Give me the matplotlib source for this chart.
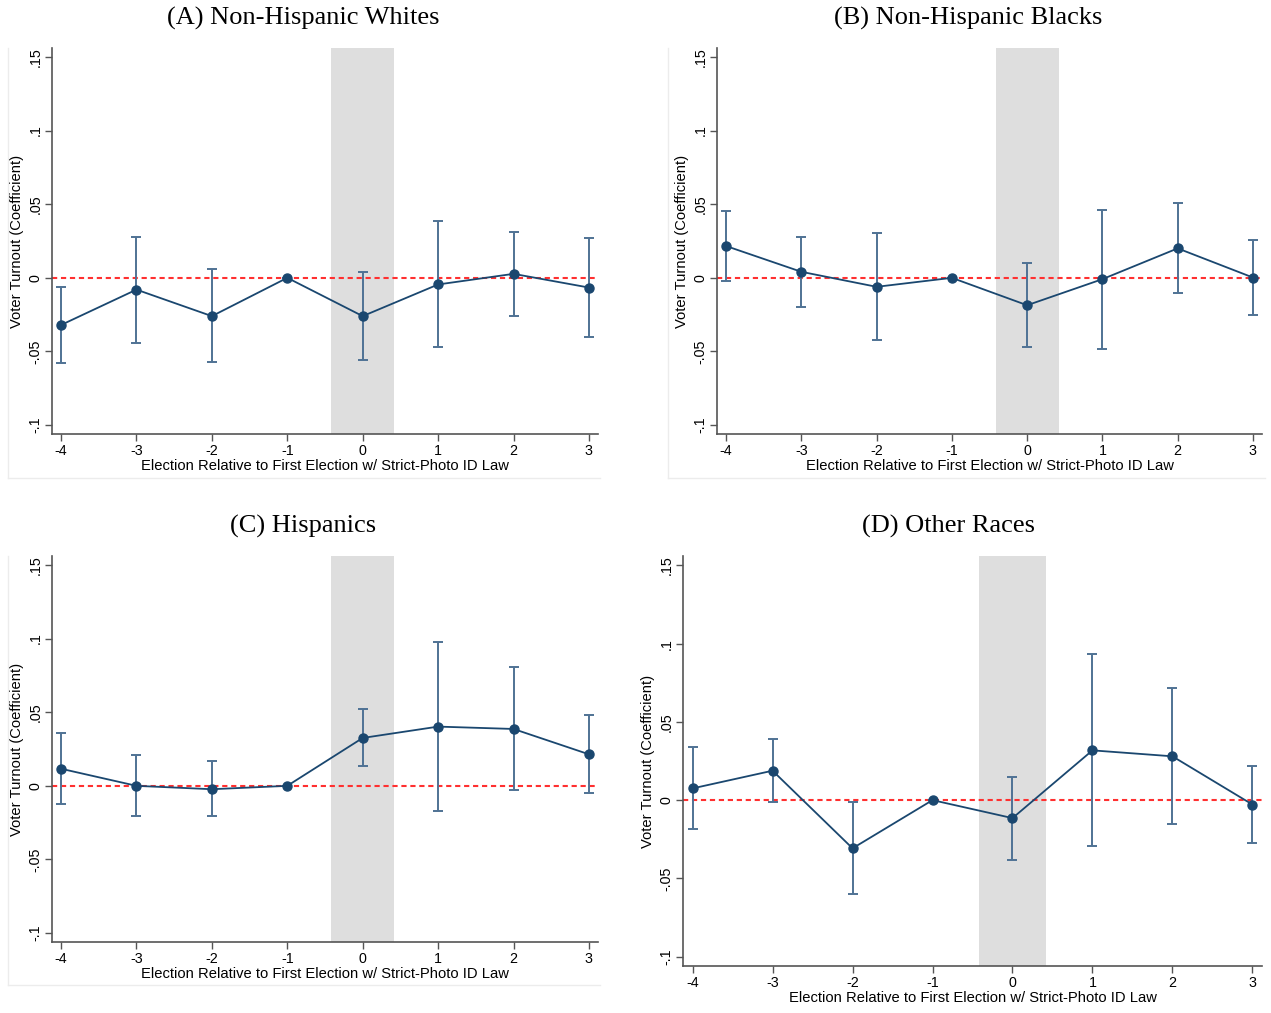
import numpy as np
import matplotlib
matplotlib.use("Agg")
import matplotlib.pyplot as plt
from matplotlib.lines import Line2D

plt.rcParams['font.family'] = ['Liberation Sans', 'DejaVu Sans']

periods = [-4, -3, -2, -1, 0, 1, 2, 3]
tick_labels_y = ['-.1', '-.05', '0', '.05', '.1', '.15']
tick_vals_y = [-0.1, -0.05, 0, 0.05, 0.1, 0.15]

titles = ['(A) Non-Hispanic Whites', '(B) Non-Hispanic Blacks',
          '(C) Hispanics', '(D) Other Races']

whites_coef = [-0.032, -0.008, -0.026, 0.0, -0.026, -0.0045, 0.0027, -0.0066]
whites_lo = [-0.058, -0.044, -0.057, 0.0, -0.056, -0.047, -0.0257, -0.040]
whites_hi = [-0.0064, 0.028, 0.0057, 0.0, 0.0041, 0.0386, 0.031, 0.0273]

blacks_coef = [0.0216, 0.0041, -0.0061, 0.0, -0.0186, -0.0009, 0.020, 0.0002]
blacks_lo = [-0.002, -0.0195, -0.0425, 0.0, -0.047, -0.048, -0.010, -0.0255]
blacks_hi = [0.0457, 0.0277, 0.0305, 0.0, 0.0102, 0.0461, 0.0505, 0.026]

hisp_coef = [0.0116, 0.0, -0.0023, 0.0, 0.0325, 0.0402, 0.0386, 0.0214]
hisp_lo = [-0.0123, -0.0205, -0.0205, 0.0, 0.0132, -0.0168, -0.0027, -0.0052]
hisp_hi = [0.0359, 0.0207, 0.0166, 0.0, 0.052, 0.0977, 0.0805, 0.0482]

other_coef = [0.0075, 0.0188, -0.0308, 0.0, -0.0115, 0.0318, 0.028, -0.0028]
other_lo = [-0.0186, -0.0011, -0.0598, 0.0, -0.038, -0.0293, -0.0152, -0.0271]
other_hi = [0.0338, 0.0389, -0.0015, 0.0, 0.0147, 0.0934, 0.0714, 0.0218]

series = [(whites_coef, whites_lo, whites_hi),
          (blacks_coef, blacks_lo, blacks_hi),
          (hisp_coef, hisp_lo, hisp_hi),
          (other_coef, other_lo, other_hi)]

W, H = 1271, 1013
fig = plt.figure(figsize=(W / 100, H / 100), dpi=100)

# axes boxes in pixels: left, top, right, bottom
boxes = [(52, 48, 598, 434), (717, 48, 1262, 434),
         (52, 556, 598, 942), (683, 556, 1262, 966)]
title_pos = [(303, 18), (968, 18), (303, 526), (949, 526)]

navy = '#1a476f'
bar_col = '#4f7294'

for i in range(4):
    l, t, r, b = boxes[i]
    ax = fig.add_axes([l / W, 1 - b / H, (r - l) / W, (b - t) / H])
    coef, lo, hi = series[i]
    x = np.array(periods)
    coef = np.array(coef)
    lo = np.array(lo)
    hi = np.array(hi)

    ax.axvspan(-0.42, 0.42, color='#dedede', lw=0, zorder=0)
    ax.axhline(0, color='#ff3030', ls=(0, (2.5, 1.8)), lw=1.5, zorder=1)
    ax.errorbar(x, coef, yerr=[coef - lo, hi - coef], fmt='none',
                ecolor=bar_col, elinewidth=1.4, capsize=3.5, capthick=1.4,
                zorder=2)
    ax.plot(x, coef, color=navy, lw=1.3, marker='o', ms=6.5, zorder=3)

    ax.set_xlim(-4.12, 3.12)
    ax.set_ylim(-0.106, 0.156)
    ax.set_xticks(periods)
    ax.set_xticklabels([str(p) for p in periods], fontsize=10.3)
    ax.set_yticks(tick_vals_y)
    ax.set_yticklabels(tick_labels_y, fontsize=10.3, rotation=90, va='center')
    for s in ['top', 'right']:
        ax.spines[s].set_visible(False)
    for s in ['left', 'bottom']:
        ax.spines[s].set_color('#555555')
        ax.spines[s].set_linewidth(1.2)
    ax.tick_params(direction='out', length=5, width=1, color='#555555', pad=2)
    ax.set_xlabel('Election Relative to First Election w/ Strict-Photo ID Law',
                  fontsize=10.6, labelpad=1)
    ax.set_ylabel('Voter Turnout (Coefficient)', fontsize=10.6, labelpad=3)

    tx, ty = title_pos[i]
    fig.text(tx / W, 1 - ty / H, titles[i], ha='center', va='center',
             fontsize=19, family='Liberation Serif')

# faint outer frames of graph regions
frames = [(8, 48, 600, 478), (668, 48, 1265, 478), (8, 556, 600, 985)]
for l, t, r, b in frames:
    fig.add_artist(Line2D([l / W, l / W], [1 - t / H, 1 - b / H],
                          color='#ececec', lw=1, transform=fig.transFigure))
    fig.add_artist(Line2D([l / W, r / W], [1 - b / H, 1 - b / H],
                          color='#ececec', lw=1, transform=fig.transFigure))

fig.savefig('out.png', dpi=100)
